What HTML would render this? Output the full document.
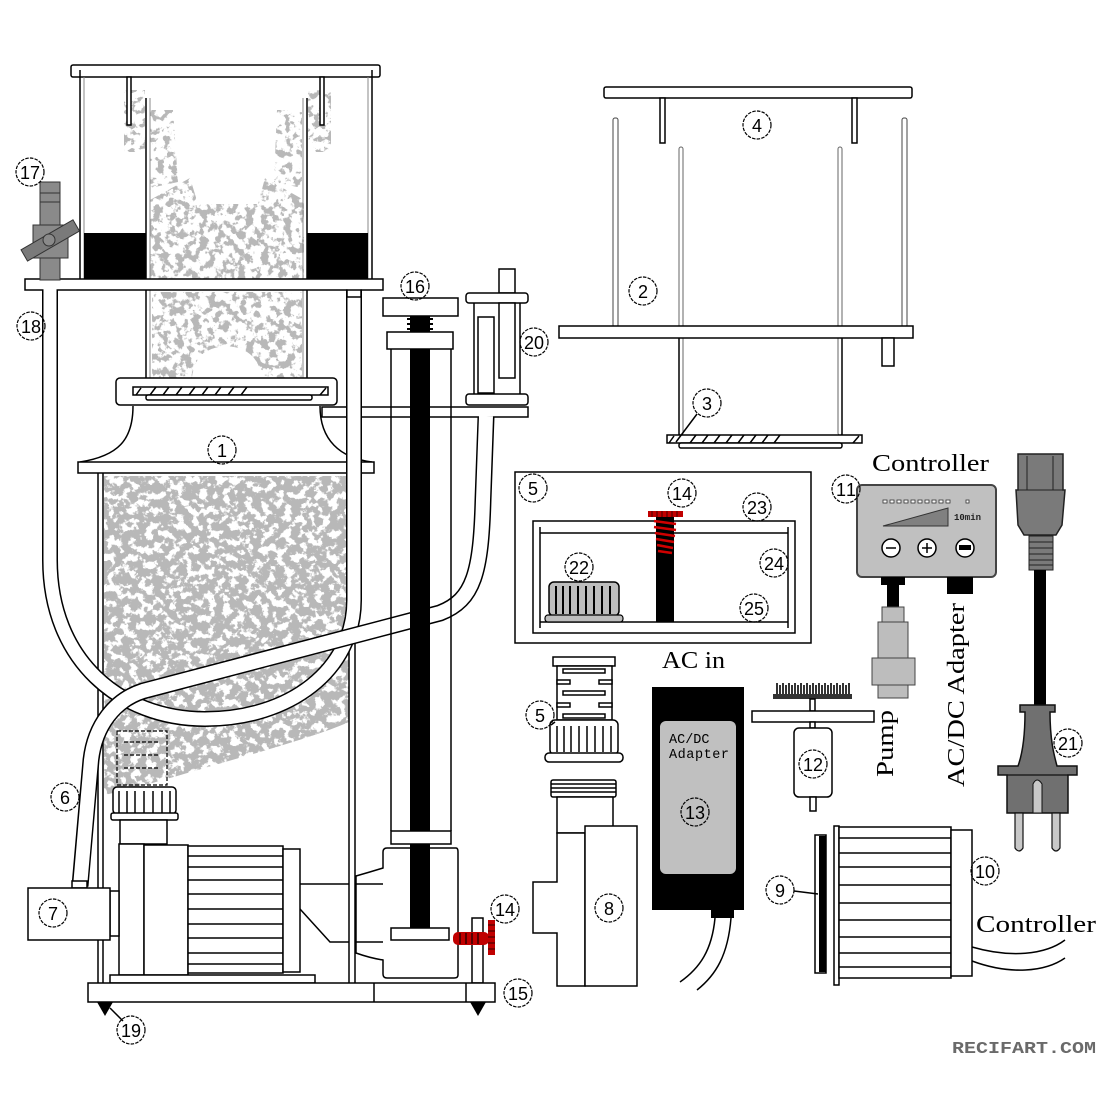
<!DOCTYPE html>
<html><head><meta charset="utf-8">
<style>html,body{margin:0;padding:0;background:#fff}svg{display:block}</style>
</head><body>
<svg width="1100" height="1100" viewBox="0 0 1100 1100" xmlns="http://www.w3.org/2000/svg" font-family="'Liberation Sans', sans-serif">
<defs>
<style>
.s{fill:#fff;stroke:#000;stroke-width:1.5}
.l{fill:none;stroke:#000;stroke-width:1.5}
.g{fill:none;stroke:#888;stroke-width:1}
.c circle{fill:none;stroke:#000;stroke-width:1.2;stroke-dasharray:3.5 1.2}
.c text{font-size:18px;text-anchor:middle;fill:#000}
.sf{font-family:'Liberation Serif',serif;fill:#000}
</style>
<filter id="sp" x="0" y="0" width="1" height="1" filterUnits="objectBoundingBox" color-interpolation-filters="sRGB">
<feTurbulence type="fractalNoise" baseFrequency="0.13" numOctaves="4" seed="7"/>
<feColorMatrix type="matrix" values="0 0 0 0 0.72  0 0 0 0 0.72  0 0 0 0 0.72  12 0 0 0 -4.9"/>
</filter>
<filter id="sp2" x="0" y="0" width="1" height="1" filterUnits="objectBoundingBox" color-interpolation-filters="sRGB">
<feTurbulence type="fractalNoise" baseFrequency="0.13" numOctaves="4" seed="3"/>
<feColorMatrix type="matrix" values="0 0 0 0 0.72  0 0 0 0 0.72  0 0 0 0 0.72  12 0 0 0 -5.9"/>
</filter>
<filter id="sp3" x="0" y="0" width="1" height="1" filterUnits="objectBoundingBox" color-interpolation-filters="sRGB">
<feTurbulence type="fractalNoise" baseFrequency="0.14" numOctaves="4" seed="11"/>
<feColorMatrix type="matrix" values="0 0 0 0 0.72  0 0 0 0 0.72  0 0 0 0 0.72  12 0 0 0 -6.4"/>
</filter>
<clipPath id="cA"><path d="M150,200 L190,178 L198,204 L258,204 L265,178 L304,200 L304,279 L150,279 Z"/></clipPath>
<clipPath id="cA2"><path d="M124,90 L145,90 L145,152 L124,152 Z M308,90 L331,90 L331,152 L308,152 Z M150,110 L173,110 L178,182 L150,188 Z M277,110 L302,110 L302,188 L274,182 Z"/></clipPath>
<clipPath id="cR"><path d="M152,292 L302,292 L302,378 L262,378 Q258,348 226,346 Q195,348 192,378 L152,378 Z"/></clipPath>
<clipPath id="cB"><path d="M104,476 L349,476 L349,722 C320,735 260,752 215,765 C170,778 130,790 104,795 Z"/></clipPath>
</defs>

<!-- ===== bubbles ===== -->
<g clip-path="url(#cA)"><rect x="100" y="85" width="260" height="310" fill="#fff" filter="url(#sp2)"/></g>
<g clip-path="url(#cA2)"><rect x="100" y="85" width="260" height="130" fill="#fff" filter="url(#sp3)"/></g>
<g clip-path="url(#cR)"><rect x="100" y="285" width="260" height="110" fill="#fff" filter="url(#sp2)"/></g>
<g clip-path="url(#cB)"><rect x="100" y="470" width="260" height="330" fill="#fff" filter="url(#sp)"/></g>

<!-- ===== upper cup ===== -->
<rect class="s" x="71" y="65" width="309" height="12" rx="2"/>
<line class="l" x1="80" y1="70" x2="80" y2="279"/>
<line class="g" x1="84" y1="77" x2="84" y2="279"/>
<line class="l" x1="372" y1="70" x2="372" y2="279"/>
<line class="g" x1="368" y1="77" x2="368" y2="279"/>
<rect class="s" x="127" y="77" width="4" height="48"/>
<rect class="s" x="320" y="77" width="4" height="48"/>
<line class="l" x1="146" y1="98" x2="146" y2="398" stroke-width="1.2"/>
<line class="g" x1="150" y1="98" x2="150" y2="398"/>
<line class="l" x1="307" y1="98" x2="307" y2="398" stroke-width="1.2"/>
<line class="g" x1="303" y1="98" x2="303" y2="398"/>
<rect x="84" y="233" width="62" height="46" fill="#000"/>
<rect x="307" y="233" width="61" height="46" fill="#000"/>
<rect class="s" x="25" y="279" width="358" height="11"/>

<!-- valve 17 -->
<rect x="40" y="182" width="20" height="98" fill="#8a8a8a" stroke="#333" stroke-width="1"/>
<line x1="40" y1="193" x2="60" y2="193" stroke="#333"/>
<line x1="40" y1="202" x2="60" y2="202" stroke="#333"/>
<rect x="33" y="225" width="35" height="33" fill="#8a8a8a" stroke="#333" stroke-width="1"/>
<rect x="20" y="234" width="60" height="13" fill="#7a7a7a" stroke="#333" stroke-width="1" transform="rotate(-30 50 240)"/>
<circle cx="49" cy="240" r="6" fill="#8a8a8a" stroke="#333"/>

<!-- neck -->
<rect class="s" x="116" y="378" width="221" height="27" rx="4"/>
<rect class="s" x="133" y="387" width="195" height="8"/>
<g class="l" stroke-width="1.2">
<line x1="150" y1="395" x2="156" y2="387"/><line x1="163" y1="395" x2="169" y2="387"/><line x1="176" y1="395" x2="182" y2="387"/><line x1="189" y1="395" x2="195" y2="387"/><line x1="202" y1="395" x2="208" y2="387"/><line x1="215" y1="395" x2="221" y2="387"/><line x1="228" y1="395" x2="234" y2="387"/><line x1="241" y1="395" x2="247" y2="387"/>
<line x1="136" y1="395" x2="141" y2="388"/><line x1="320" y1="395" x2="326" y2="388"/>
</g>
<rect class="s" x="146" y="395" width="166" height="5" rx="2"/>
<path class="l" d="M133,406 C133,440 118,456 80,462"/>
<path class="l" d="M320,406 C320,440 340,458 372,462"/>
<rect class="s" x="78" y="462" width="296" height="11"/>

<!-- plate to 20 -->
<rect class="s" x="322" y="407" width="206" height="10"/>

<!-- body walls -->
<line class="l" x1="98" y1="473" x2="98" y2="983"/>
<line class="l" x1="103" y1="473" x2="103" y2="983" stroke-width="1"/>
<line class="l" x1="349" y1="473" x2="349" y2="983" stroke-width="1"/>
<line class="l" x1="355" y1="473" x2="355" y2="983"/>

<!-- tube 18 -->
<path d="M50,290 L50,560 C50,660 120,719 205,719 C290,719 354,670 354,600 L354,290" fill="none" stroke="#000" stroke-width="16"/>
<path d="M50,289 L50,560 C50,660 120,719 205,719 C290,719 354,670 354,600 L354,289" fill="none" stroke="#fff" stroke-width="13"/>
<rect class="s" x="347" y="290" width="14" height="7"/>

<!-- hose 6 -->
<path d="M486,417 L483,500 C481,572 474,600 440,613 L143,691 C115,700 95,725 91,760 L80,886" fill="none" stroke="#000" stroke-width="17"/>
<path d="M486,416 L483,500 C481,572 474,600 440,613 L143,691 C115,700 95,725 91,760 L80,887" fill="none" stroke="#fff" stroke-width="14"/>
<rect class="s" x="72" y="881" width="15" height="7"/>

<!-- ghost strainer -->
<g fill="none" stroke="#000" stroke-width="1.2" stroke-dasharray="4 2">
<rect x="117" y="731" width="50" height="54"/>
<line x1="124" y1="742" x2="160" y2="742"/>
<line x1="124" y1="755" x2="160" y2="755"/>
<line x1="124" y1="768" x2="160" y2="768"/>
</g>

<!-- column 16 -->
<rect class="s" x="383" y="298" width="75" height="18"/>
<rect x="410" y="316" width="20" height="612" fill="#000"/>
<g stroke="#000" stroke-width="2">
<line x1="407" y1="319" x2="433" y2="319"/><line x1="407" y1="324" x2="433" y2="324"/><line x1="407" y1="329" x2="433" y2="329"/>
</g>
<rect class="s" x="387" y="332" width="66" height="17"/>
<line class="l" x1="391" y1="349" x2="391" y2="831"/>
<line class="l" x1="451" y1="349" x2="451" y2="831"/>
<rect class="s" x="391" y="831" width="60" height="13"/>
<path class="s" d="M387,848 L456,848 Q458,848 458,852 L458,975 Q458,978 454,978 L387,978 Q383,978 383,974 L383,960 Q370,958 356,953 L356,876 Q370,872 383,868 L383,852 Q383,848 387,848 Z"/>
<line class="l" x1="356" y1="884" x2="383" y2="884"/>
<line class="l" x1="356" y1="942" x2="383" y2="942"/>
<rect x="410" y="844" width="20" height="84" fill="#000"/>
<rect class="s" x="391" y="928" width="58" height="12"/>
<rect class="s" x="472" y="918" width="11" height="65"/>
<rect x="453" y="932" width="36" height="13" rx="5" fill="#c00000"/>
<g stroke="#300" stroke-width="1.5"><line x1="460" y1="933" x2="460" y2="944"/><line x1="466" y1="933" x2="466" y2="944"/><line x1="472" y1="933" x2="472" y2="944"/><line x1="478" y1="933" x2="478" y2="944"/></g>
<rect x="488" y="920" width="7" height="35" fill="#c00000"/>
<g stroke="#300" stroke-width="1"><line x1="488" y1="925" x2="495" y2="925"/><line x1="488" y1="931" x2="495" y2="931"/><line x1="488" y1="937" x2="495" y2="937"/><line x1="488" y1="943" x2="495" y2="943"/><line x1="488" y1="949" x2="495" y2="949"/></g>

<!-- 20 -->
<rect class="s" x="499" y="269" width="16" height="24"/>
<rect class="s" x="466" y="293" width="62" height="10" rx="3"/>
<line class="l" x1="474" y1="303" x2="474" y2="394"/>
<line class="l" x1="520" y1="303" x2="520" y2="394"/>
<rect class="s" x="478" y="317" width="16" height="76"/>
<rect class="s" x="499" y="303" width="16" height="75"/>
<rect class="s" x="466" y="394" width="62" height="11" rx="3"/>

<!-- pump -->
<rect class="s" x="113" y="787" width="63" height="27" rx="4"/>
<g class="l" stroke-width="1.5">
<line x1="119" y1="791" x2="119" y2="813"/><line x1="127" y1="791" x2="127" y2="813"/><line x1="135" y1="791" x2="135" y2="813"/><line x1="144" y1="791" x2="144" y2="813"/><line x1="153" y1="791" x2="153" y2="813"/><line x1="162" y1="791" x2="162" y2="813"/><line x1="170" y1="791" x2="170" y2="813"/>
</g>
<rect class="s" x="111" y="813" width="67" height="7" rx="2"/>
<rect class="s" x="120" y="820" width="47" height="24"/>
<rect class="s" x="119" y="844" width="25" height="131"/>
<rect class="s" x="110" y="891" width="9" height="45"/>
<rect class="s" x="28" y="888" width="82" height="52"/>
<rect class="s" x="144" y="845" width="44" height="130"/>
<rect class="s" x="188" y="846" width="95" height="127"/>
<g class="l" stroke-width="1.3">
<line x1="188" y1="856" x2="283" y2="856"/><line x1="188" y1="867" x2="283" y2="867"/><line x1="188" y1="880" x2="283" y2="880"/><line x1="188" y1="894" x2="283" y2="894"/><line x1="188" y1="909" x2="283" y2="909"/><line x1="188" y1="924" x2="283" y2="924"/><line x1="188" y1="938" x2="283" y2="938"/><line x1="188" y1="953" x2="283" y2="953"/><line x1="188" y1="964" x2="283" y2="964"/>
</g>
<rect class="s" x="283" y="849" width="17" height="123"/>
<path class="l" d="M300,884 L349,884 M300,909 L330,942 L349,942"/>
<rect class="s" x="110" y="975" width="205" height="8"/>

<!-- base -->
<rect class="s" x="88" y="983" width="407" height="19"/>
<line class="l" x1="374" y1="983" x2="374" y2="1002"/>
<line class="l" x1="466" y1="983" x2="466" y2="1002"/>
<polygon points="97,1002 113,1002 105,1016" fill="#000"/>
<polygon points="470,1002 486,1002 478,1016" fill="#000"/>
<line class="l" x1="110" y1="1008" x2="123" y2="1021" stroke-width="1"/>

<!-- ===== top right cup ===== -->
<rect class="s" x="604" y="87" width="308" height="11" rx="2"/>
<rect class="s" x="660" y="98" width="5" height="45"/>
<rect class="s" x="852" y="98" width="5" height="45"/>
<rect x="613" y="118" width="5" height="209" rx="2" fill="#fff" stroke="#444" stroke-width="1"/>
<rect x="902" y="118" width="5" height="209" rx="2" fill="#fff" stroke="#444" stroke-width="1"/>
<rect x="679" y="147" width="4" height="288" rx="2" fill="#fff" stroke="#666" stroke-width="1"/>
<rect x="838" y="147" width="4" height="288" rx="2" fill="#fff" stroke="#666" stroke-width="1"/>
<rect class="s" x="559" y="326" width="354" height="12"/>
<rect class="s" x="882" y="338" width="12" height="28"/>
<line class="l" x1="679" y1="338" x2="679" y2="440"/>
<line class="l" x1="842" y1="338" x2="842" y2="440"/>
<rect class="s" x="667" y="435" width="195" height="8" stroke-width="1.2"/>
<g class="l" stroke-width="1.2">
<line x1="690" y1="443" x2="696" y2="435"/><line x1="702" y1="443" x2="708" y2="435"/><line x1="714" y1="443" x2="720" y2="435"/><line x1="726" y1="443" x2="732" y2="435"/><line x1="738" y1="443" x2="744" y2="435"/><line x1="750" y1="443" x2="756" y2="435"/><line x1="762" y1="443" x2="768" y2="435"/><line x1="774" y1="443" x2="780" y2="435"/>
<line x1="669" y1="443" x2="674" y2="436"/><line x1="853" y1="443" x2="859" y2="436"/>
</g>
<rect class="s" x="679" y="443" width="163" height="5" rx="2"/>
<line class="l" x1="697" y1="414" x2="676" y2="442" stroke-width="1"/>

<!-- ===== box 5 ===== -->
<rect class="s" x="515" y="472" width="296" height="171"/>
<rect class="s" x="533" y="521" width="262" height="112"/>
<line class="l" x1="540" y1="533" x2="788" y2="533"/>
<line class="l" x1="540" y1="622" x2="788" y2="622"/>
<line class="l" x1="540" y1="527" x2="540" y2="628"/>
<line class="l" x1="788" y1="527" x2="788" y2="628"/>
<rect x="656" y="517" width="18" height="105" fill="#000"/>
<g stroke="#d00000" stroke-width="2.5"><line x1="654" y1="521" x2="676" y2="524"/><line x1="654" y1="527" x2="676" y2="530"/><line x1="655" y1="533" x2="675" y2="536"/><line x1="656" y1="539" x2="674" y2="542"/><line x1="657" y1="545" x2="673" y2="548"/><line x1="658" y1="551" x2="672" y2="553"/></g>
<rect x="648" y="511" width="35" height="6" fill="#c00000"/>
<g stroke="#400" stroke-width="1"><line x1="652" y1="511" x2="652" y2="517"/><line x1="657" y1="511" x2="657" y2="517"/><line x1="662" y1="511" x2="662" y2="517"/><line x1="667" y1="511" x2="667" y2="517"/><line x1="672" y1="511" x2="672" y2="517"/><line x1="677" y1="511" x2="677" y2="517"/></g>
<rect x="549" y="582" width="70" height="34" rx="5" fill="#bdbdbd" stroke="#000" stroke-width="1.5"/>
<g stroke="#000" stroke-width="2"><line x1="556" y1="586" x2="556" y2="614"/><line x1="563" y1="586" x2="563" y2="614"/><line x1="570" y1="586" x2="570" y2="614"/><line x1="578" y1="586" x2="578" y2="614"/><line x1="586" y1="586" x2="586" y2="614"/><line x1="594" y1="586" x2="594" y2="614"/><line x1="602" y1="586" x2="602" y2="614"/><line x1="610" y1="586" x2="610" y2="614"/></g>
<rect x="545" y="615" width="78" height="7" rx="3" fill="#bdbdbd" stroke="#000" stroke-width="1.2"/>
<text class="sf" x="662" y="668" font-size="24" textLength="63" lengthAdjust="spacingAndGlyphs">AC in</text>

<!-- part 5 -->
<rect class="s" x="553" y="657" width="62" height="9"/>
<rect class="s" x="557" y="666" width="55" height="54"/>
<g class="s" stroke-width="1.2">
<rect x="563" y="669" width="42" height="4"/>
<rect x="557" y="680" width="13" height="4"/><rect x="599" y="680" width="13" height="4"/>
<rect x="563" y="691" width="42" height="4"/>
<rect x="557" y="703" width="13" height="4"/><rect x="599" y="703" width="13" height="4"/>
<rect x="563" y="714" width="42" height="4"/>
</g>
<rect class="s" x="550" y="720" width="68" height="35" rx="5"/>
<g class="l" stroke-width="1.5"><line x1="557" y1="726" x2="557" y2="752"/><line x1="564" y1="726" x2="564" y2="752"/><line x1="571" y1="726" x2="571" y2="752"/><line x1="579" y1="726" x2="579" y2="752"/><line x1="587" y1="726" x2="587" y2="752"/><line x1="595" y1="726" x2="595" y2="752"/><line x1="603" y1="726" x2="603" y2="752"/><line x1="611" y1="726" x2="611" y2="752"/></g>
<rect class="s" x="545" y="753" width="78" height="9" rx="4"/>
<line class="l" x1="551" y1="725" x2="555" y2="722" stroke-width="1"/>

<!-- part 8 -->
<rect class="s" x="551" y="780" width="65" height="17" rx="2"/>
<g class="l" stroke-width="1.2"><line x1="551" y1="784" x2="616" y2="784"/><line x1="551" y1="788" x2="616" y2="788"/><line x1="551" y1="792" x2="616" y2="792"/></g>
<rect class="s" x="557" y="797" width="56" height="36"/>
<path class="s" d="M557,833 L585,833 L585,986 L557,986 L557,933 L533,933 L533,882 L557,882 Z"/>
<rect class="s" x="585" y="826" width="52" height="160"/>

<!-- adapter 13 -->
<rect x="652" y="687" width="92" height="223" fill="#000"/>
<rect x="660" y="721" width="76" height="153" rx="6" fill="#c0c0c0"/>
<rect x="711" y="906" width="23" height="12" fill="#000"/>
<path class="l" d="M715,918 C712,950 700,968 680,982"/>
<path class="l" d="M731,918 C728,955 716,975 697,990"/>
<text x="669" y="743" font-family="'Liberation Mono',monospace" font-size="13.5" fill="#000">AC/DC</text>
<text x="669" y="758" font-family="'Liberation Mono',monospace" font-size="13.5" fill="#000" textLength="60">Adapter</text>

<!-- part 12 -->
<rect x="775" y="683" width="75" height="11" fill="#fff"/>
<g stroke="#000" stroke-width="1.6">
<line x1="777" y1="683" x2="777" y2="695"/><line x1="780" y1="685" x2="780" y2="695"/><line x1="783" y1="683" x2="783" y2="695"/><line x1="786" y1="685" x2="786" y2="695"/><line x1="789" y1="683" x2="789" y2="695"/><line x1="792" y1="685" x2="792" y2="695"/><line x1="795" y1="683" x2="795" y2="695"/><line x1="798" y1="685" x2="798" y2="695"/><line x1="801" y1="683" x2="801" y2="695"/><line x1="804" y1="685" x2="804" y2="695"/><line x1="807" y1="683" x2="807" y2="695"/><line x1="810" y1="685" x2="810" y2="695"/><line x1="813" y1="683" x2="813" y2="695"/><line x1="816" y1="685" x2="816" y2="695"/><line x1="819" y1="683" x2="819" y2="695"/><line x1="822" y1="685" x2="822" y2="695"/><line x1="825" y1="683" x2="825" y2="695"/><line x1="828" y1="685" x2="828" y2="695"/><line x1="831" y1="683" x2="831" y2="695"/><line x1="834" y1="685" x2="834" y2="695"/><line x1="837" y1="683" x2="837" y2="695"/><line x1="840" y1="685" x2="840" y2="695"/><line x1="843" y1="683" x2="843" y2="695"/><line x1="846" y1="685" x2="846" y2="695"/><line x1="849" y1="683" x2="849" y2="695"/>
</g>
<rect x="773" y="694" width="79" height="5" fill="#333"/>
<rect class="s" x="810" y="699" width="5" height="12" stroke-width="1.2"/>
<rect class="s" x="752" y="711" width="122" height="11"/>
<rect class="s" x="810" y="722" width="5" height="6" stroke-width="1.2"/>
<rect class="s" x="794" y="728" width="38" height="69" rx="5"/>
<rect class="s" x="810" y="797" width="6" height="14" stroke-width="1.2"/>

<!-- parts 9/10 -->
<rect class="s" x="815" y="835" width="11" height="138" stroke-width="1.2"/>
<rect x="819" y="836" width="7" height="136" fill="#000"/>
<rect class="s" x="834" y="826" width="5" height="159"/>
<rect class="s" x="839" y="827" width="112" height="151"/>
<g class="l" stroke-width="1.4">
<line x1="839" y1="838" x2="951" y2="838"/><line x1="839" y1="853" x2="951" y2="853"/><line x1="839" y1="867" x2="951" y2="867"/><line x1="839" y1="885" x2="951" y2="885"/><line x1="839" y1="903" x2="951" y2="903"/><line x1="839" y1="920" x2="951" y2="920"/><line x1="839" y1="937" x2="951" y2="937"/><line x1="839" y1="953" x2="951" y2="953"/><line x1="839" y1="967" x2="951" y2="967"/>
</g>
<rect class="s" x="951" y="830" width="21" height="146"/>
<line class="l" x1="794" y1="891" x2="818" y2="894" stroke-width="1"/>
<path class="l" d="M972,947 C1010,958 1045,955 1065,940" stroke-width="1.3"/>
<path class="l" d="M972,961 C1010,975 1045,972 1065,958" stroke-width="1.3"/>
<text class="sf" x="976" y="932" font-size="24" textLength="120" lengthAdjust="spacingAndGlyphs">Controller</text>

<!-- ===== controller 11 ===== -->
<text class="sf" x="872" y="471" font-size="24" textLength="117" lengthAdjust="spacingAndGlyphs">Controller</text>
<rect x="857" y="485" width="139" height="92" rx="5" fill="#c0c0c0" stroke="#444" stroke-width="2"/>
<g fill="#fff" stroke="#333" stroke-width="0.8">
<rect x="883" y="500" width="4" height="3"/><rect x="890" y="500" width="4" height="3"/><rect x="897" y="500" width="4" height="3"/><rect x="904" y="500" width="4" height="3"/><rect x="911" y="500" width="4" height="3"/><rect x="918" y="500" width="4" height="3"/><rect x="925" y="500" width="4" height="3"/><rect x="932" y="500" width="4" height="3"/><rect x="939" y="500" width="4" height="3"/><rect x="946" y="500" width="4" height="3"/><rect x="966" y="500" width="3" height="3"/>
</g>
<polygon points="883,526 948,508 948,526" fill="#808080" stroke="#333" stroke-width="1"/>
<text x="954" y="520" font-family="'Liberation Mono',monospace" font-size="9" font-weight="bold" fill="#222">10min</text>
<circle cx="891" cy="548" r="9" fill="#fff" stroke="#000" stroke-width="1.5"/>
<line x1="886" y1="548" x2="896" y2="548" stroke="#000" stroke-width="1.5"/>
<circle cx="927" cy="548" r="9" fill="#fff" stroke="#000" stroke-width="1.5"/>
<line x1="922" y1="548" x2="932" y2="548" stroke="#000" stroke-width="1.5"/>
<line x1="927" y1="543" x2="927" y2="553" stroke="#000" stroke-width="1.5"/>
<circle cx="965" cy="548" r="9" fill="#fff" stroke="#000" stroke-width="1.5"/>
<rect x="959" y="545" width="12" height="5" fill="#000"/>
<rect x="881" y="577" width="24" height="8" fill="#000"/>
<rect x="887" y="585" width="12" height="22" fill="#000"/>
<rect x="882" y="607" width="22" height="15" fill="#bdbdbd" stroke="#444" stroke-width="1"/>
<rect x="878" y="622" width="30" height="36" fill="#bdbdbd" stroke="#444" stroke-width="1"/>
<rect x="872" y="658" width="43" height="27" fill="#bdbdbd" stroke="#444" stroke-width="1"/>
<rect x="878" y="685" width="30" height="13" fill="#bdbdbd" stroke="#444" stroke-width="1"/>
<rect x="947" y="577" width="26" height="17" fill="#000"/>
<text class="sf" transform="translate(893,777) rotate(-90)" font-size="24" textLength="67" lengthAdjust="spacingAndGlyphs">Pump</text>
<text class="sf" transform="translate(964,787) rotate(-90)" font-size="24" textLength="184" lengthAdjust="spacingAndGlyphs">AC/DC Adapter</text>

<!-- ===== power cord 21 ===== -->
<path d="M1018,454 L1063,454 L1063,490 L1065,490 L1062,525 L1056,535 L1024,535 L1018,525 L1016,490 L1018,490 Z" fill="#7a7a7a" stroke="#222" stroke-width="1.5"/>
<line x1="1027" y1="456" x2="1027" y2="490" stroke="#222" stroke-width="1"/>
<line x1="1053" y1="456" x2="1053" y2="490" stroke="#222" stroke-width="1"/>
<line x1="1018" y1="490" x2="1063" y2="490" stroke="#222" stroke-width="1"/>
<rect x="1029" y="536" width="24" height="34" fill="#7a7a7a" stroke="#222" stroke-width="1"/>
<g stroke="#222" stroke-width="1"><line x1="1029" y1="542" x2="1053" y2="542"/><line x1="1029" y1="548" x2="1053" y2="548"/><line x1="1029" y1="554" x2="1053" y2="554"/><line x1="1029" y1="560" x2="1053" y2="560"/><line x1="1029" y1="565" x2="1053" y2="565"/></g>
<rect x="1034" y="570" width="12" height="137" fill="#000"/>
<path d="M1020,705 L1055,705 L1055,712 L1050,712 C1050,740 1054,755 1057,766 L1077,766 L1077,775 L1068,775 L1068,813 L1007,813 L1007,775 L998,775 L998,766 L1018,766 C1022,755 1025,740 1025,712 L1020,712 Z" fill="#707070" stroke="#111" stroke-width="1.5"/>
<line x1="1007" y1="775" x2="1068" y2="775" stroke="#111" stroke-width="1.2"/>
<path d="M1033,813 L1033,784 Q1037,776 1042,784 L1042,813 Z" fill="#c8c8c8" stroke="#111" stroke-width="1"/>
<path d="M1015,813 L1015,848 Q1019,854 1023,848 L1023,813 Z" fill="#c8c8c8" stroke="#111" stroke-width="1.2"/>
<path d="M1052,813 L1052,848 Q1056,854 1060,848 L1060,813 Z" fill="#c8c8c8" stroke="#111" stroke-width="1.2"/>

<!-- watermark -->
<text x="952" y="1053" font-family="'Liberation Mono',monospace" font-weight="bold" font-size="17" fill="#6a6a6a" textLength="144" lengthAdjust="spacingAndGlyphs">RECIFART.COM</text>

<!-- ===== labels ===== -->
<g class="c">
<circle cx="222" cy="450" r="14"/><text x="222" y="457">1</text>
<circle cx="643" cy="291" r="14"/><text x="643" y="298">2</text>
<circle cx="707" cy="403" r="14"/><text x="707" y="410">3</text>
<circle cx="757" cy="125" r="14"/><text x="757" y="132">4</text>
<circle cx="533" cy="488" r="14"/><text x="533" y="495">5</text>
<circle cx="540" cy="715" r="14"/><text x="540" y="722">5</text>
<circle cx="65" cy="797" r="14"/><text x="65" y="804">6</text>
<circle cx="53" cy="913" r="14"/><text x="53" y="920">7</text>
<circle cx="609" cy="908" r="14"/><text x="609" y="915">8</text>
<circle cx="780" cy="890" r="14"/><text x="780" y="897">9</text>
<circle cx="985" cy="871" r="14"/><text x="985" y="878" textLength="20">10</text>
<circle cx="846" cy="489" r="14"/><text x="846" y="496" textLength="20">11</text>
<circle cx="813" cy="764" r="14"/><text x="813" y="771" textLength="20">12</text>
<circle cx="695" cy="812" r="14"/><text x="695" y="819" textLength="20">13</text>
<circle cx="682" cy="493" r="14"/><text x="682" y="500" textLength="20">14</text>
<circle cx="505" cy="909" r="14"/><text x="505" y="916" textLength="20">14</text>
<circle cx="518" cy="993" r="14"/><text x="518" y="1000" textLength="20">15</text>
<circle cx="415" cy="286" r="14"/><text x="415" y="293" textLength="20">16</text>
<circle cx="30" cy="172" r="14"/><text x="30" y="179" textLength="20">17</text>
<circle cx="31" cy="326" r="14"/><text x="31" y="333" textLength="20">18</text>
<circle cx="131" cy="1030" r="14"/><text x="131" y="1037" textLength="20">19</text>
<circle cx="534" cy="342" r="14"/><text x="534" y="349" textLength="20">20</text>
<circle cx="1068" cy="743" r="14"/><text x="1068" y="750" textLength="20">21</text>
<circle cx="579" cy="567" r="14"/><text x="579" y="574" textLength="20">22</text>
<circle cx="757" cy="507" r="14"/><text x="757" y="514" textLength="20">23</text>
<circle cx="774" cy="563" r="14"/><text x="774" y="570" textLength="20">24</text>
<circle cx="754" cy="608" r="14"/><text x="754" y="615" textLength="20">25</text>
</g>
</svg>
</body></html>
